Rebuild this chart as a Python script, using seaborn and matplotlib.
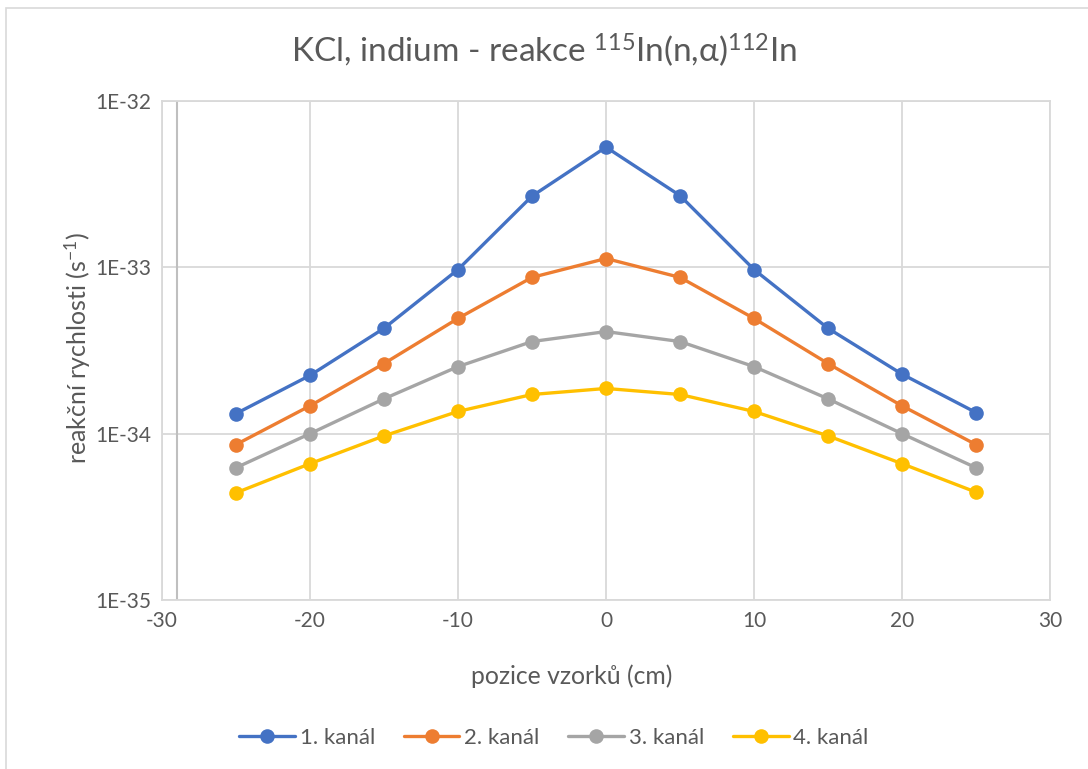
import numpy as np
import pandas as pd
import matplotlib
matplotlib.use("Agg")
import matplotlib.pyplot as plt
import seaborn as sns
from matplotlib.ticker import FixedLocator, FixedFormatter, NullLocator
from matplotlib.patches import Rectangle

# data
positions = [-25, -20, -15, -10, -5, 0, 5, 10, 15, 20, 25]
kanal1 = [1.32e-34, 2.24e-34, 4.3e-34, 9.7e-34, 2.68e-33, 5.28e-33,
          2.7e-33, 9.7e-34, 4.3e-34, 2.28e-34, 1.34e-34]
kanal2 = [8.6e-35, 1.47e-34, 2.64e-34, 4.93e-34, 8.7e-34, 1.13e-33,
          8.7e-34, 4.93e-34, 2.64e-34, 1.47e-34, 8.6e-35]
kanal3 = [6.24e-35, 1.0e-34, 1.62e-34, 2.53e-34, 3.58e-34, 4.11e-34,
          3.58e-34, 2.53e-34, 1.62e-34, 1.0e-34, 6.24e-35]
kanal4 = [4.41e-35, 6.6e-35, 9.7e-35, 1.36e-34, 1.72e-34, 1.87e-34,
          1.72e-34, 1.36e-34, 9.7e-35, 6.6e-35, 4.45e-35]
series_names = ["1. kanál", "2. kanál", "3. kanál", "4. kanál"]
colors = ["#4472C4", "#ED7D31", "#A5A5A5", "#FFC000"]

ytick_vals = [1e-35, 1e-34, 1e-33, 1e-32]
ytick_labels = ["1E-35", "1E-34", "1E-33", "1E-32"]
xtick_vals = [-30, -20, -10, 0, 10, 20, 30]

df = pd.DataFrame({
    "pozice": positions * 4,
    "hodnota": kanal1 + kanal2 + kanal3 + kanal4,
    "kanal": [n for n in series_names for _ in positions],
})

text_color = "#595959"
grid_color = "#D9D9D9"

sns.set_theme(style="white")
plt.rcParams["font.family"] = ["Lato", "DejaVu Sans"]
plt.rcParams["axes.unicode_minus"] = False
plt.rcParams["mathtext.fontset"] = "custom"
plt.rcParams["mathtext.rm"] = "Lato"
plt.rcParams["mathtext.it"] = "Lato"
plt.rcParams["mathtext.default"] = "rm"

fig = plt.figure(figsize=(10.88, 7.69), dpi=100)
ax = fig.add_axes([162 / 1088, 1 - 600 / 769, (1050 - 162) / 1088, (600 - 101) / 769])

sns.lineplot(data=df, x="pozice", y="hodnota", hue="kanal", palette=colors,
             marker="o", markersize=10.5, markeredgewidth=0, linewidth=2.4,
             ax=ax, legend=True, zorder=3)

ax.set_yscale("log")
ax.set_ylim(1e-35, 1e-32)
ax.set_xlim(-30, 30)
ax.yaxis.set_major_locator(FixedLocator(ytick_vals))
ax.yaxis.set_major_formatter(FixedFormatter(ytick_labels))
ax.yaxis.set_minor_locator(NullLocator())
ax.set_xticks(xtick_vals)

ax.grid(True, color=grid_color, linewidth=1.3, zorder=0)
ax.set_axisbelow(True)
for s in ax.spines.values():
    s.set_color(grid_color)
    s.set_linewidth(1.3)
ax.axvline(-29, color="#BFBFBF", linewidth=1.5, zorder=1)

ax.tick_params(axis="both", length=0, labelsize=15, colors=text_color, pad=8)
ax.set_xlabel("")
ax.set_ylabel("")

fig.text(78 / 1088, 1 - 348 / 769, "reakční rychlosti (s$^{-1}$)", rotation=90,
         ha="center", va="center", fontsize=18, color=text_color)
fig.text(572 / 1088, 1 - 676 / 769, "pozice vzorků (cm)", ha="center", va="center",
         fontsize=17.8, color=text_color)
fig.text(0.5, 1 - 50 / 769, r"KCl, indium - reakce $^{115}$In(n,α)$^{112}$In",
         ha="center", va="center", fontsize=24, color=text_color)

handles, labels = ax.get_legend_handles_labels()
ax.legend(handles, labels, loc="center", bbox_to_anchor=(554 / 1088, 1 - 738 / 769),
          bbox_transform=fig.transFigure, ncol=4, frameon=False,
          fontsize=16, labelcolor=text_color, handlelength=2.5,
          columnspacing=1.3, handletextpad=0.22)

fig.patches.append(Rectangle((6 / 1088, -0.1), 1.2, 1 - 8 / 769 + 0.1,
                             transform=fig.transFigure, fill=False,
                             edgecolor="#D9D9D9", linewidth=1.2))

fig.savefig("out.png", dpi=100, facecolor="white")
